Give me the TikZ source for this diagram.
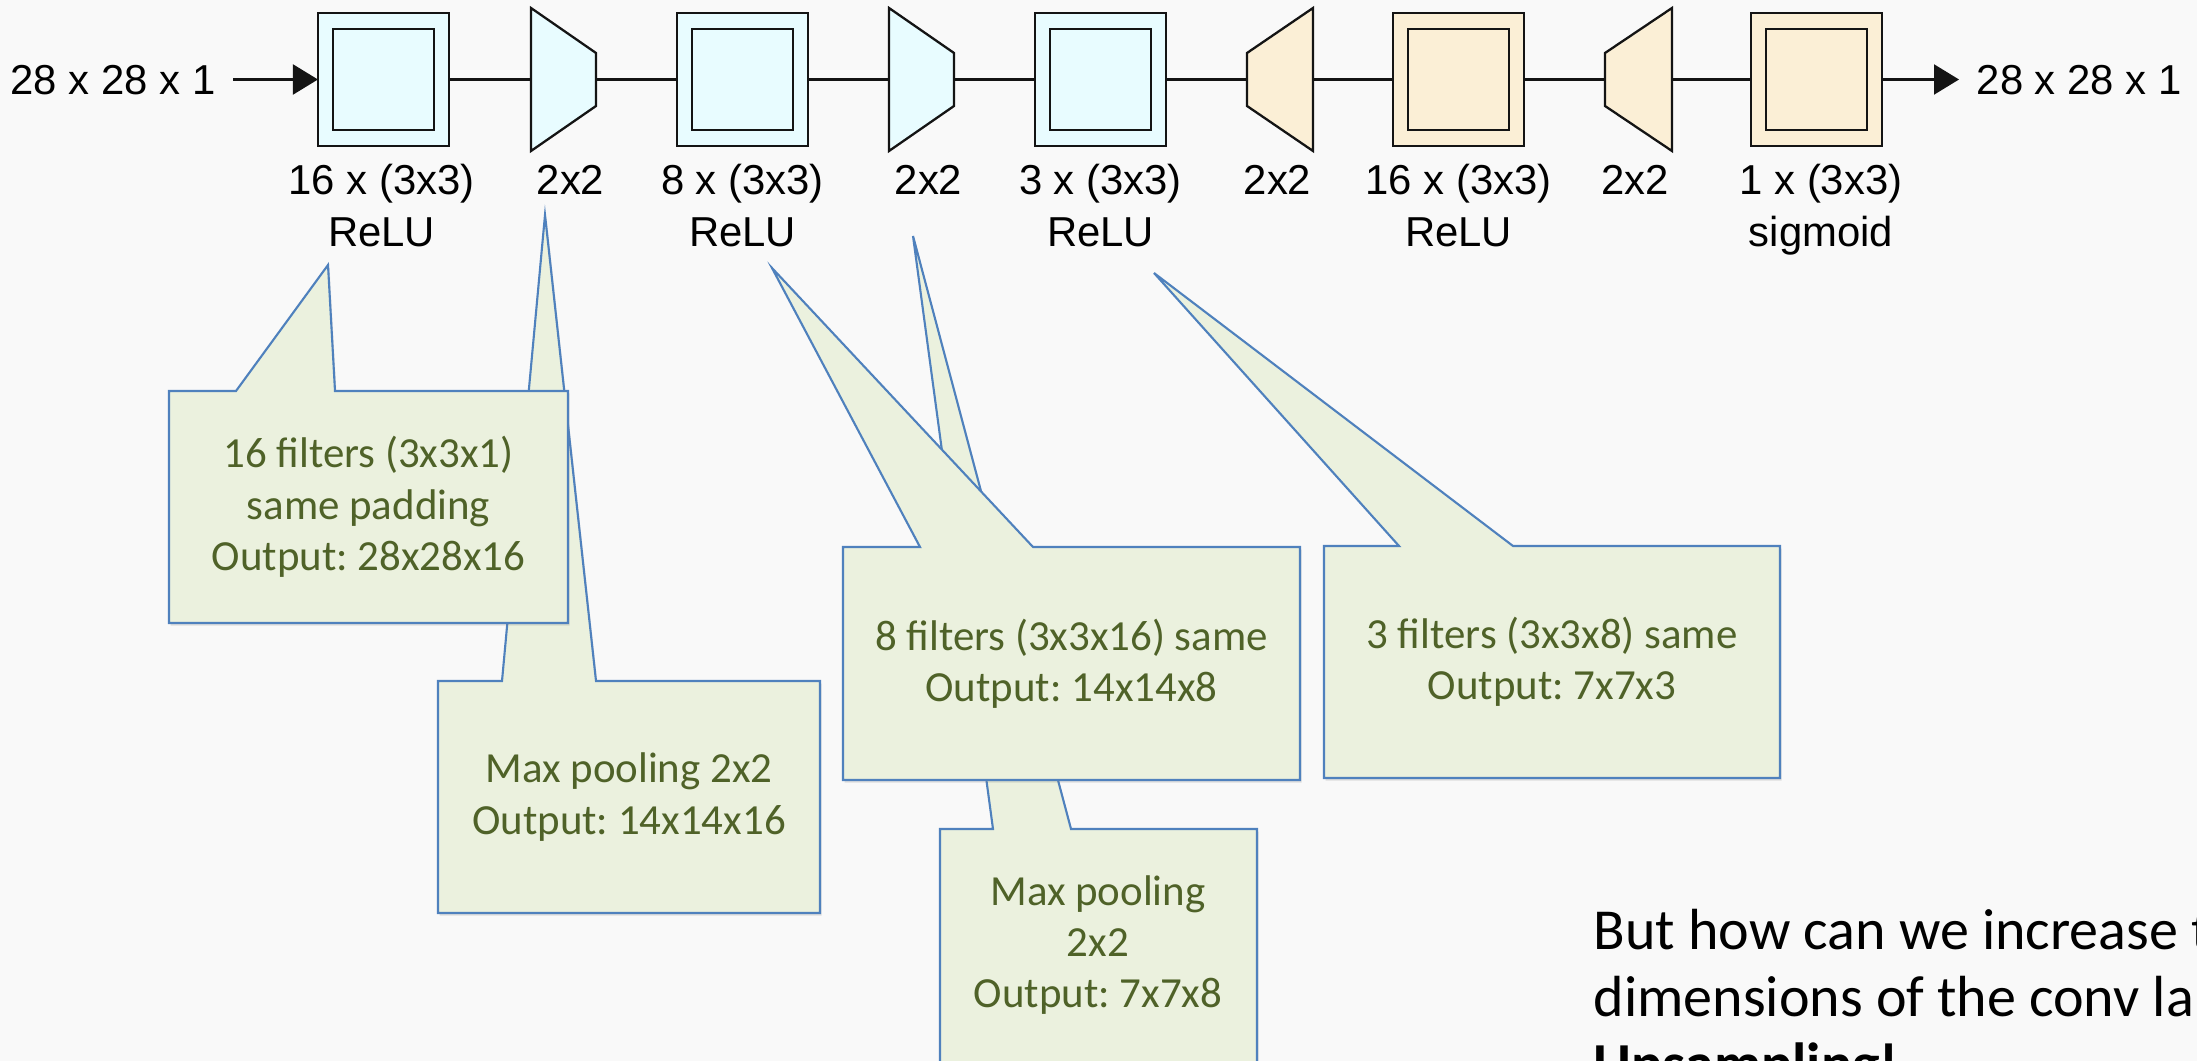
\documentclass[tikz,border=0pt]{standalone}
\usepackage{fontspec}
\setmainfont{Liberation Sans}
\newfontfamily\calib{Carlito}
\usetikzlibrary{arrows.meta,shadows}
\definecolor{bgc}{RGB}{249,249,249}
\definecolor{encf}{RGB}{232,252,255}
\definecolor{decf}{RGB}{251,239,214}
\definecolor{cof}{RGB}{235,241,222}
\definecolor{cob}{RGB}{79,129,189}
\definecolor{cot}{RGB}{79,98,40}
\definecolor{edgec}{RGB}{20,20,20}
\frenchspacing
\begin{document}
\begin{tikzpicture}[x=0.01cm,y=-0.01cm,
  convbox/.style={draw=edgec,line width=0.65pt,minimum width=1.31cm,minimum height=1.33cm,inner sep=0pt,outer sep=0pt},
  convin/.style={draw=edgec,line width=0.65pt,minimum width=1.01cm,minimum height=1.01cm,inner sep=0pt,outer sep=0pt},
  enc/.style={fill=encf}, dec/.style={fill=decf},
  poolshape/.style={draw=edgec,line width=0.65pt,line join=miter},
  conn/.style={draw=edgec,line width=0.6pt},
  lbl/.style={font=\fontsize{11.9}{14}\selectfont,inner sep=0pt,anchor=base},
  io/.style={font=\fontsize{11.9}{14}\selectfont,inner ysep=0pt,inner xsep=0.17cm},
  callout/.style={draw=cob,fill=cof,line width=0.6pt,line join=miter,drop shadow={shadow xshift=0.015cm,shadow yshift=-0.025cm,opacity=0.22}},
  cotext/.style={font=\calib\fontsize{12.2}{14.6}\selectfont,text=cot,align=center,inner sep=0pt},
  note/.style={font=\calib\fontsize{16.5}{19}\selectfont,anchor=base west,inner sep=0pt}
]
\useasboundingbox (0,0) rectangle (2197,1061);
\fill[bgc] (0,0) rectangle (2197,1061);
\clip (0,0) rectangle (2197,1061);

% conv blocks
\node[convbox,enc] (c1) at (383.5,79.5) {};
\node[convin] (c1i) at (c1) {};
\node[convbox,enc] (c2) at (742.5,79.5) {};
\node[convin] (c2i) at (c2) {};
\node[convbox,enc] (c3) at (1100.5,79.5) {};
\node[convin] (c3i) at (c3) {};
\node[convbox,dec] (c4) at (1458.5,79.5) {};
\node[convin] (c4i) at (c4) {};
\node[convbox,dec] (c5) at (1816.5,79.5) {};
\node[convin] (c5i) at (c5) {};

% pooling / upsampling blocks
\draw[poolshape,fill=encf] (531,8) -- (596,53) -- (596,106) -- (531,151) -- cycle;
\coordinate (p1w) at (531,79.5); \coordinate (p1e) at (596,79.5);
\draw[poolshape,fill=encf] (889,8) -- (954,53) -- (954,106) -- (889,151) -- cycle;
\coordinate (p2w) at (889,79.5); \coordinate (p2e) at (954,79.5);
\draw[poolshape,fill=decf] (1247,53) -- (1313,8) -- (1313,151) -- (1247,106) -- cycle;
\coordinate (u1w) at (1247,79.5); \coordinate (u1e) at (1313,79.5);
\draw[poolshape,fill=decf] (1605,53) -- (1672,8) -- (1672,151) -- (1605,106) -- cycle;
\coordinate (u2w) at (1605,79.5); \coordinate (u2e) at (1672,79.5);

% connectors
\draw[conn] (c1.east) -- (p1w);
\draw[conn] (p1e) -- (c2.west);
\draw[conn] (c2.east) -- (p2w);
\draw[conn] (p2e) -- (c3.west);
\draw[conn] (c3.east) -- (u1w);
\draw[conn] (u1e) -- (c4.west);
\draw[conn] (c4.east) -- (u2w);
\draw[conn] (u2e) -- (c5.west);

% input / output
\node[io,anchor=base west] (in) at (-7,95) {28 x 28 x 1};
\node[io,anchor=base west] (out) at (1959,95) {28 x 28 x 1};
\draw[conn,-{Triangle[length=0.25cm,width=0.30cm]}] (c1.west -| in.east) -- (c1.west);
\draw[conn,-{Triangle[length=0.25cm,width=0.30cm]}] (c5.east) -- (c5.east -| out.west);

% labels
\node[lbl] (l1a) at (381.5,195) {16 x (3x3)};
\node[lbl] (l1b) at (381.5,247) {ReLU};
\node[lbl] (l2) at (570.5,195) {2x2};
\node[lbl] (l3a) at (742.5,195) {8 x (3x3)};
\node[lbl] (l3b) at (742.5,247) {ReLU};
\node[lbl] (l4) at (928.5,195) {2x2};
\node[lbl] (l5a) at (1100.5,195) {3 x (3x3)};
\node[lbl] (l5b) at (1100.5,247) {ReLU};
\node[lbl] (l6) at (1277.5,195) {2x2};
\node[lbl] (l7a) at (1458.5,195) {16 x (3x3)};
\node[lbl] (l7b) at (1458.5,247) {ReLU};
\node[lbl] (l8) at (1635,195) {2x2};
\node[lbl] (l9a) at (1821,195) {1 x (3x3)};
\node[lbl] (l9b) at (1821,247) {sigmoid};

% callouts
\draw[callout] (438,681) -- (502,681) -- (545,215) -- (596,681) -- (820,681) -- (820,913) -- (438,913) -- cycle;
\node[cotext] (t2) at (629,797) {Max pooling 2x2\\Output: 14x14x16};
\draw[callout] (169,391) -- (236,391) -- (328,265) -- (335,391) -- (568,391) -- (568,623) -- (169,623) -- cycle;
\node[cotext] (t1) at (368.5,507) {16 filters (3x3x1)\\same padding\\Output: 28x28x16};
\draw[callout] (940,829) -- (993,829) -- (913,236) -- (1071,829) -- (1257,829) -- (1257,1080) -- (940,1080) -- cycle;
\node[cotext] (t4) at (1098,945) {Max pooling\\2x2\\Output: 7x7x8};
\draw[callout] (843,547) -- (920,547) -- (772,268) -- (1033,547) -- (1300,547) -- (1300,780) -- (843,780) -- cycle;
\node[cotext] (t3) at (1071.5,663.5) {8 filters (3x3x16) same\\Output: 14x14x8};
\draw[callout] (1324,546) -- (1399,546) -- (1154,273) -- (1513,546) -- (1780,546) -- (1780,778) -- (1324,778) -- cycle;
\node[cotext] (t5) at (1552,662) {3 filters (3x3x8) same\\Output: 7x7x3};

% note
\node[note] (n1) at (1593,949) {But how can we increase t};
\node[note] (n2) at (1593,1016) {dimensions of the conv la};
\node[note,font=\calib\bfseries\fontsize{16.5}{19}\selectfont] (n3) at (1593,1083) {Upsampling!};
\end{tikzpicture}
\end{document}
